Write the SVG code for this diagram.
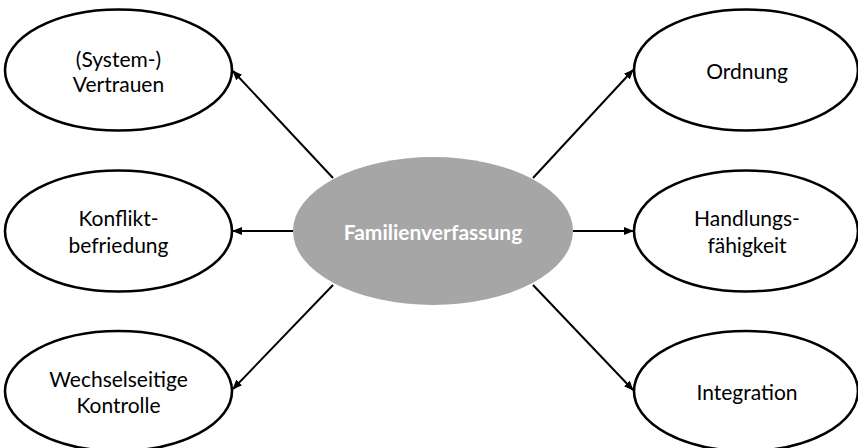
<svg xmlns="http://www.w3.org/2000/svg" width="858" height="448" viewBox="0 0 858 448">
<style>
.n{fill:#fff;stroke:#000;stroke-width:2.6}
.t{font-family:Lato,"Open Sans","Liberation Sans",sans-serif;font-size:21px;fill:#000;text-anchor:middle}
.c{fill:#a6a6a6}
.ct{font-family:Lato,"Open Sans","Liberation Sans",sans-serif;font-size:21px;font-weight:bold;fill:#fff;text-anchor:middle}
.e{stroke:#000;stroke-width:2;fill:none;marker-end:url(#a)}
</style>
<defs>
<marker id="a" markerWidth="10" markerHeight="8" refX="9" refY="4" orient="auto" markerUnits="userSpaceOnUse">
<path d="M0,0 L10,4 L0,8 Z" fill="#000"/>
</marker>
</defs>
<rect width="858" height="448" fill="#fff"/>
<g id="connectors">
<line class="e" x1="333" y1="178" x2="233" y2="71"/>
<line class="e" x1="293" y1="231" x2="233" y2="231"/>
<line class="e" x1="333" y1="285" x2="233" y2="389"/>
<line class="e" x1="533" y1="178" x2="633" y2="70"/>
<line class="e" x1="573" y1="231" x2="633" y2="231"/>
<line class="e" x1="533" y1="285" x2="633" y2="390"/>
</g>
<g id="center">
<ellipse class="c" cx="433" cy="231" rx="140" ry="74"/>
<text class="ct" x="433" y="240">Familienverfassung</text>
</g>
<g id="vertrauen">
<ellipse class="n" cx="118.5" cy="70" rx="113.5" ry="60.5"/>
<text class="t" x="118.5" y="67">(System-)</text>
<text class="t" x="118.5" y="92">Vertrauen</text>
</g>
<g id="konflikt">
<ellipse class="n" cx="118.5" cy="231" rx="113.5" ry="60.5"/>
<text class="t" x="118.5" y="226">Konflikt-</text>
<text class="t" x="118.5" y="253">befriedung</text>
</g>
<g id="kontrolle">
<ellipse class="n" cx="118.5" cy="391" rx="113.5" ry="60"/>
<text class="t" x="118.5" y="387">Wechselseitige</text>
<text class="t" x="118.5" y="413">Kontrolle</text>
</g>
<g id="ordnung">
<ellipse class="n" cx="746" cy="70" rx="112" ry="60.5"/>
<text class="t" x="747" y="79">Ordnung</text>
</g>
<g id="handlung">
<ellipse class="n" cx="746" cy="231" rx="112" ry="60.5"/>
<text class="t" x="747" y="226">Handlungs-</text>
<text class="t" x="747" y="253">fähigkeit</text>
</g>
<g id="integration">
<ellipse class="n" cx="746" cy="391" rx="112" ry="60"/>
<text class="t" x="747" y="400">Integration</text>
</g>
</svg>
